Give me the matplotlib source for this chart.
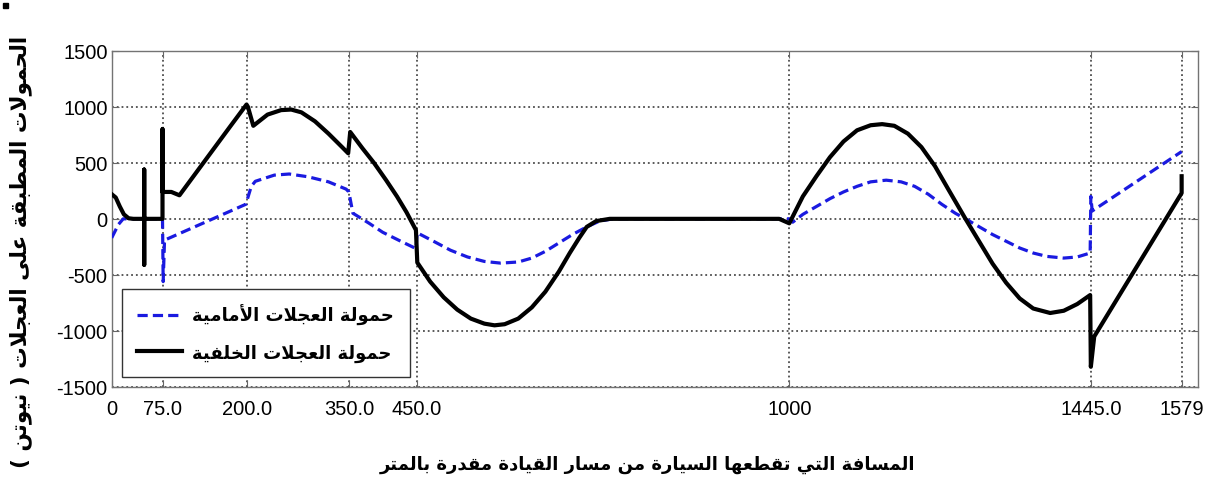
import matplotlib
matplotlib.use('Agg')
import matplotlib.pyplot as plt
from matplotlib.patches import Rectangle

# wheel loads along the driving route (N) vs distance (m)
front_x = [0, 5, 10, 17, 75, 76, 78, 198, 206, 212, 240, 262, 290, 320, 346, 350, 356,
           380, 400, 425, 449, 451, 475, 500, 525, 550, 574, 600, 620, 640, 660, 680, 701,
           720, 740, 1000, 1005, 1020, 1040, 1060, 1080, 1100, 1120, 1143, 1165, 1185, 1205,
           1225, 1245, 1260, 1280, 1300, 1320, 1340, 1360, 1380, 1405, 1425, 1444, 1445,
           1447, 1579]
front_y = [-170, -110, -50, 0, 0, -560, -190, 130, 290, 335, 390, 400, 375, 330, 265, 240, 50,
           -40, -120, -195, -265, -125, -200, -280, -340, -380, -395, -385, -350, -290, -215,
           -140, -72, -20, 0, 0, -30, 40, 110, 180, 240, 290, 330, 345, 330, 290, 220, 130,
           50, 0, -70, -140, -200, -260, -305, -335, -350, -340, -305, 200, 70, 600]

rear_x = [0, 6, 12, 18, 25, 32, 48, 48, 48, 48, 75, 75, 75, 88, 100, 125, 150, 175, 199, 201,
          209, 230, 250, 265, 280, 300, 320, 340, 349, 352, 370, 387, 405, 421, 435, 449, 451,
          470, 490, 510, 530, 550, 565, 580, 600, 620, 640, 660, 676, 690, 701, 715, 735, 985,
          1000, 1020, 1040, 1060, 1080, 1100, 1120, 1137, 1155, 1175, 1195, 1215, 1235, 1260,
          1280, 1300, 1320, 1340, 1360, 1385, 1405, 1425, 1444, 1445, 1450, 1579, 1579]
rear_y = [220, 190, 110, 40, 5, 0, 0, 440, -410, 0, 0, 800, 240, 240, 210, 415, 620, 825, 1020,
          1000, 830, 930, 970, 975, 950, 870, 760, 640, 585, 775, 630, 500, 345, 200, 60, -100,
          -390, -560, -700, -810, -890, -935, -950, -940, -890, -790, -650, -470, -305, -170,
          -72, -20, 0, 0, -40, 200, 380, 550, 690, 790, 835, 845, 830, 760, 640, 470, 260, 0,
          -200, -400, -570, -710, -800, -840, -820, -760, -680, -1320, -1050, 230, 380]

x_ticks = [0, 75, 200, 350, 450, 1000, 1445, 1579]
x_tick_labels = ['0', '75.0', '200.0', '350.0', '450.0', '1000', '1445.0', '1579']
y_ticks = [-1500, -1000, -500, 0, 500, 1000, 1500]

label_front = 'حمولة العجلات الأمامية'
label_rear = 'حمولة العجلات الخلفية'
label_x = 'المسافة التي تقطعها السيارة من مسار القيادة مقدرة بالمتر'
label_y = 'الحمولات المطبقة على العجلات ( نيوتن )'

###############################################################################
# Arabic shaping (no bidi/shaping engine in matplotlib's text layout)
###############################################################################
FORMS = {
    '\u0621': (0xFE80, 1), '\u0622': (0xFE81, 2), '\u0623': (0xFE83, 2),
    '\u0624': (0xFE85, 2), '\u0625': (0xFE87, 2), '\u0626': (0xFE89, 4),
    '\u0627': (0xFE8D, 2), '\u0628': (0xFE8F, 4), '\u0629': (0xFE93, 2),
    '\u062A': (0xFE95, 4), '\u062B': (0xFE99, 4), '\u062C': (0xFE9D, 4),
    '\u062D': (0xFEA1, 4), '\u062E': (0xFEA5, 4), '\u062F': (0xFEA9, 2),
    '\u0630': (0xFEAB, 2), '\u0631': (0xFEAD, 2), '\u0632': (0xFEAF, 2),
    '\u0633': (0xFEB1, 4), '\u0634': (0xFEB5, 4), '\u0635': (0xFEB9, 4),
    '\u0636': (0xFEBD, 4), '\u0637': (0xFEC1, 4), '\u0638': (0xFEC5, 4),
    '\u0639': (0xFEC9, 4), '\u063A': (0xFECD, 4), '\u0641': (0xFED1, 4),
    '\u0642': (0xFED5, 4), '\u0643': (0xFED9, 4), '\u0644': (0xFEDD, 4),
    '\u0645': (0xFEE1, 4), '\u0646': (0xFEE5, 4), '\u0647': (0xFEE9, 4),
    '\u0648': (0xFEED, 2), '\u0649': (0xFEEF, 2), '\u064A': (0xFEF1, 4),
}
LAM_ALEF = {'\u0622': 0xFEF5, '\u0623': 0xFEF7, '\u0625': 0xFEF9, '\u0627': 0xFEFB}


def shape(text):
    toks = []
    i = 0
    while i < len(text):
        c = text[i]
        if c == '\u0644' and i + 1 < len(text) and text[i + 1] in LAM_ALEF:
            toks.append((LAM_ALEF[text[i + 1]], 2))
            i += 2
        elif c in FORMS:
            toks.append(FORMS[c])
            i += 1
        else:
            toks.append((c, 0))
            i += 1
    out = []
    for k, (base, n) in enumerate(toks):
        if n == 0:
            out.append(base)
            continue
        prev_j = k > 0 and toks[k - 1][1] == 4
        next_j = n == 4 and k + 1 < len(toks) and toks[k + 1][1] > 1
        if n == 1:
            code = base
        elif prev_j and next_j:
            code = base + 3
        elif prev_j:
            code = base + 1
        elif next_j:
            code = base + 2
        else:
            code = base
        out.append(chr(code))
    return ''.join(out)[::-1].translate(str.maketrans('()', ')('))


###############################################################################
# Plot
###############################################################################
plt.rcParams['font.family'] = ['Liberation Sans', 'DejaVu Sans']
plt.rcParams['axes.unicode_minus'] = False
AR_FONT = ['DejaVu Sans']

fig = plt.figure(figsize=(12.1, 4.81), dpi=100)
ax = fig.add_axes([0.0923, 0.1934, 0.8977, 0.6991])

ax.plot(front_x, front_y, color='#1a1ae0', lw=2.3, dashes=(3.2, 1.6),
        label=shape(label_front), zorder=3)
ax.plot(rear_x, rear_y, color='black', lw=3.0, solid_joinstyle='round',
        label=shape(label_rear), zorder=4)

ax.set_xlim(0, 1603)
ax.set_ylim(-1500, 1500)
ax.set_xticks(x_ticks)
ax.set_xticklabels(x_tick_labels)
ax.set_yticks(y_ticks)
ax.grid(True, linestyle=':', color='0.3', linewidth=1.3)
ax.tick_params(direction='in', top=True, right=True, length=5, color='0.4',
               labelsize=14.5)
ax.tick_params(axis='x', pad=9)
ax.tick_params(axis='y', pad=3)
for sp in ax.spines.values():
    sp.set_color('0.45')
    sp.set_linewidth(1.0)

leg = ax.legend(loc='lower left', bbox_to_anchor=(0.0095, 0.03),
                prop={'family': AR_FONT, 'weight': 'bold', 'size': 13},
                handlelength=2.5, handletextpad=0.55, fancybox=False, framealpha=1,
                borderaxespad=0, borderpad=0.85, labelspacing=1.0)
leg.get_frame().set_edgecolor('0.2')
leg.get_frame().set_linewidth(1.0)

fig.text(0.535, 1 - 465 / 481, shape(label_x), family=AR_FONT, weight='bold',
         fontsize=13, ha='center', va='center')
fig.text(0.017, 1 - 252 / 481, shape(label_y), family=AR_FONT, weight='bold',
         fontsize=15.5, rotation=90, ha='center', va='center')
fig.patches.append(Rectangle((3 / 1210, 1 - 9 / 481), 5 / 1210, 5 / 481,
                             transform=fig.transFigure, color='black'))

fig.savefig('out.png', dpi=100, facecolor='white')
